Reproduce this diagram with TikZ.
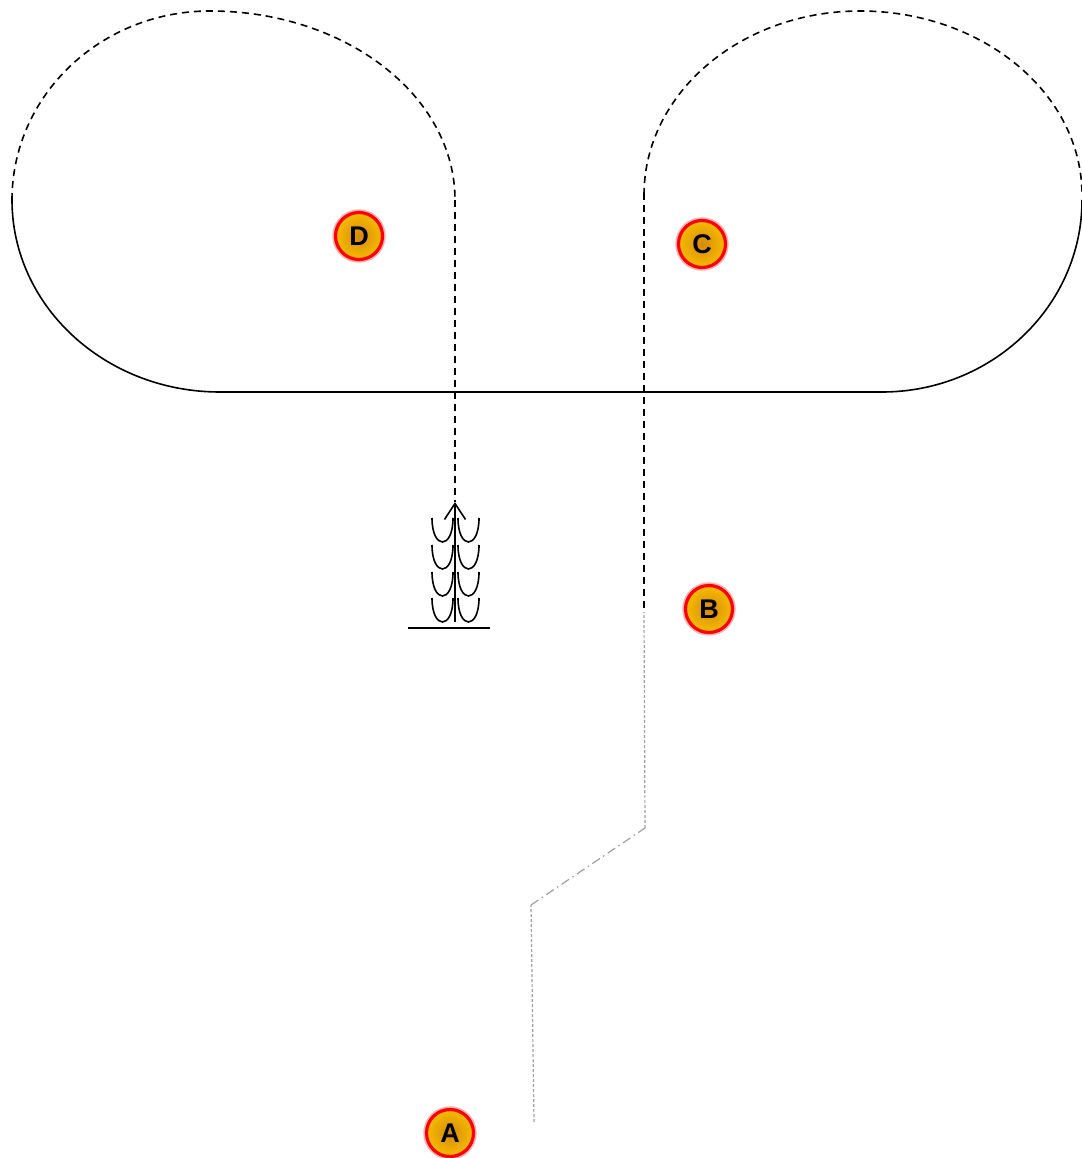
\documentclass[tikz,border=0pt]{standalone}
\usepackage{fontspec}
\setmainfont{Liberation Sans}
\usetikzlibrary{arrows.meta}
\definecolor{jaune}{RGB}{246,188,0}
\definecolor{orange}{RGB}{214,138,10}
\begin{document}
\begin{tikzpicture}[x=1pt,y=-1pt,% 1pt par pixel, axe des y vers le bas
	trait/.style={line width=1.6pt},
	tirets/.style={trait,dash pattern=on 7pt off 5pt},
	gris/.style={line width=1.2pt,gray!75,dash pattern=on 3pt off 2pt},
	repere/.style={circle,minimum size=47pt,inner sep=0pt,draw=red,line width=3.2pt,
		preaction={draw=red!30,line width=6.5pt},
		inner color=orange,outer color=jaune,
		font=\bfseries\fontsize{27}{27}\selectfont}]
	\useasboundingbox (0,0) rectangle (1081,1158);
	
	% boucle de gauche
	\draw[tirets] (12,200) .. controls (12,95.6) and (100.6,11) .. (210,11)
		.. controls (345.3,11) and (455,95.6) .. (455,200);
	\draw[trait] (12,200) .. controls (12,306) and (105,392) .. (220,392);
	% ligne droite
	\draw[line width=2pt] (220,392) -- (882,392);
	% boucle de droite
	\draw[trait] (882,392) .. controls (992,392) and (1082,306) .. (1082,200);
	\draw[tirets] (644,195) .. controls (644,93.4) and (740.7,11) .. (860,11)
		.. controls (982.6,11) and (1082,93.4) .. (1082,195);
	
	% montée vers le point D
	\draw[tirets] (455,200) -- (455,502);
	\draw[trait,-{Straight Barb[length=16pt,width=21pt,line width=1.6pt]}] (455,622) -- (455,502);
	\foreach \y in {518,545,572,598}{
		\draw[trait] (432,\y) .. controls (432,\y+32) and (453,\y+32) .. (453,\y);
		\draw[trait] (458,\y) .. controls (458,\y+32) and (479,\y+32) .. (479,\y);}
	\draw[line width=1.6pt] (408,628) -- (490,628);
	
	% trajet depuis A
	\coordinate (depart) at (534,1122);
	\coordinate (coude1) at (531,905);
	\coordinate (coude2) at (645,828);
	\coordinate (arrivee) at (644,612);
	\draw[gris] (depart) -- (coude1);
	\draw[gris,dash pattern=on 9pt off 4pt on 1.5pt off 4pt] (coude1) -- (coude2);
	\draw[gris] (coude2) -- (arrivee);
	\draw[tirets] (644,608) -- (644,195);
	
	% points de repère
	\foreach \nom/\x/\y in {A/450/1133,B/709/609,C/702/244,D/359/236}{
		\node[repere] (pt\nom) at (\x,\y) {\nom};}
\end{tikzpicture}
\end{document}
